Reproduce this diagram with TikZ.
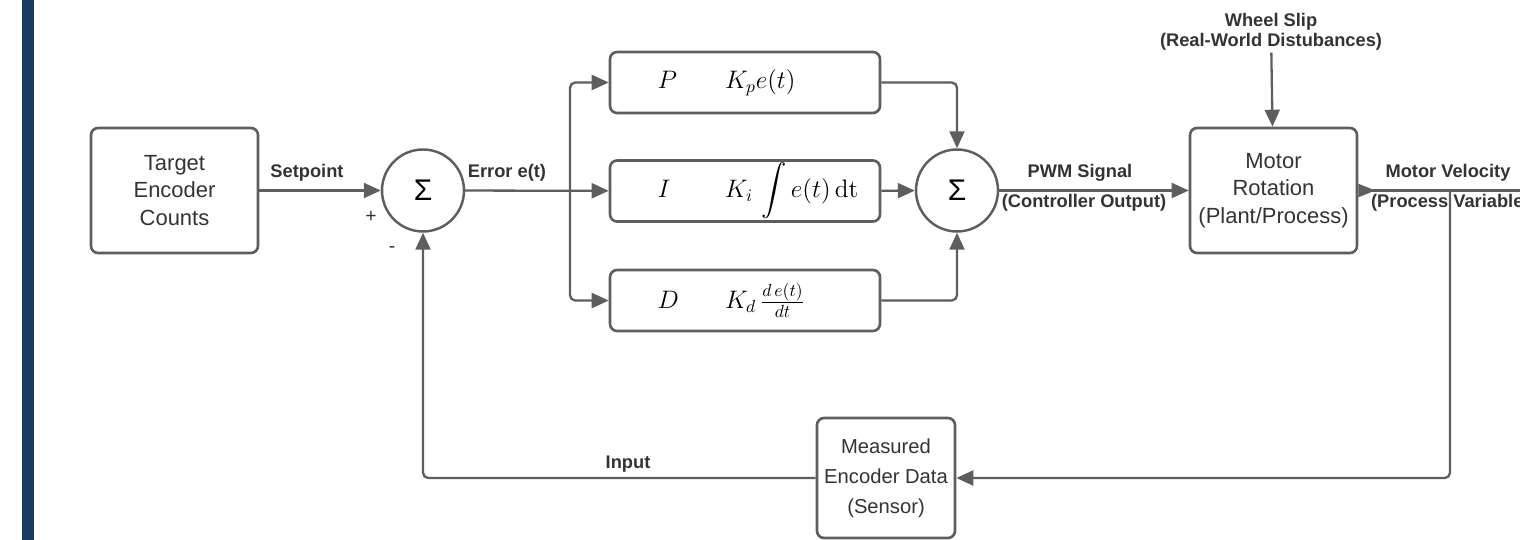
\documentclass[tikz,border=0pt]{standalone}
\usepackage[no-math]{fontspec}
\setmainfont{Liberation Sans}
\usepackage{amsmath}
\usetikzlibrary{arrows.meta}
\definecolor{linegray}{HTML}{5E5E5E}
\definecolor{ink}{HTML}{333333}
\definecolor{edgeblue}{HTML}{1B3A5F}
\newcommand{\pidterm}[2]{\hspace*{0.95cm}\makebox[1.35cm][l]{$#1$}$#2$}
\tikzset{
  block/.style={draw=linegray,line width=1.5pt,rounded corners=4pt,align=center,text=ink,inner sep=0pt,font=\fontsize{12.5}{15.8}\selectfont},
  sum/.style={draw=linegray,circle,line width=1.4pt,minimum size=1.64cm,inner sep=0pt,text=black,font=\fontsize{17}{19}\selectfont},
  pid/.style={draw=linegray,line width=1.5pt,rounded corners=4pt,minimum width=5.4cm,minimum height=1.22cm,inner sep=0pt,text width=5.4cm,align=left,font=\fontsize{14}{16}\selectfont},
  lab/.style={text=ink,font=\bfseries\fontsize{10.4}{11.4}\selectfont,align=center,inner sep=1pt},
  sign/.style={text=ink,font=\fontsize{11}{13}\selectfont,inner sep=0pt},
  wire/.style={draw=linegray,line width=1.3pt,rounded corners=3pt}
}

\begin{document}
\begin{tikzpicture}[x=0.02cm,y=-0.02cm,>={Triangle[length=0.34cm,width=0.3cm]}]
  \useasboundingbox (0,0) rectangle (1520,540);
  \fill[edgeblue] (22,0) rectangle (34,540);

  \node[block,minimum width=3.34cm,minimum height=2.5cm] (T) at (174.5,190.5) {Target\\Encoder\\Counts};
  \node[sum] (S1) at (423,190.5) {Σ};
  \node[pid] (P) at (745,82.5) {\pidterm{P}{K_p e(t)}};
  \node[pid] (I) at (745,191) {\pidterm{I}{K_i \,\displaystyle\int e(t)\,\mathrm{dt}}};
  \node[pid] (D) at (745,300.5) {\pidterm{D}{K_d \, \frac{d\,e(t)}{dt}}};
  \node[sum] (S2) at (957,190.5) {Σ};
  \node[block,minimum width=3.34cm,minimum height=2.5cm] (M) at (1273.5,190.5) {Motor\\Rotation\\(Plant/Process)};
  \node[block,minimum width=2.76cm,minimum height=2.4cm,font=\fontsize{11.5}{17}\selectfont] (E) at (886,478) {Measured\\Encoder Data\\(Sensor)};

  \node[lab] (sp) at (307,173) {Setpoint};
  \node[lab] (er) at (507,173) {Error e(t)};
  \node[sign] (pl) at (371,217) {+};
  \node[sign] (mi) at (392,250) {-};
  \node[lab] (pw) at (1080,173) {PWM Signal};
  \node[lab] (co) at (1084,203) {(Controller Output)};
  \node[lab] (ws) at (1271,32) {Wheel Slip\\(Real-World Distubances)};
  \node[lab] (mv) at (1448,173) {Motor Velocity};
  \node[lab,anchor=west] (pv) at (1369,203) {(Process Variable)};
  \node[lab] (in) at (628,464) {Input};

  \coordinate (F) at (570,190.5);
  \coordinate (O) at (1520,190.5);
  \coordinate (V) at (1450,190.5);

  \draw[wire,->] (T) -- (S1);
  \draw[wire,->] (S1) -- (I);
  \draw[wire,->] (F) |- (P);
  \draw[wire,->] (F) |- (D);
  \draw[wire,->] (P) -| (S2);
  \draw[wire,->] (I) -- (S2);
  \draw[wire,->] (D) -| (S2);
  \draw[wire,->] (S2) -- (M);
  \draw[wire,->] (ws) -- (M);
  \draw[wire,{Triangle[reversed,length=0.34cm,width=0.26cm]}-] (M) -- (O);
  \draw[wire,->] (V) |- (E);
  \draw[wire,->] (E) -| (S1);
\end{tikzpicture}
\end{document}
